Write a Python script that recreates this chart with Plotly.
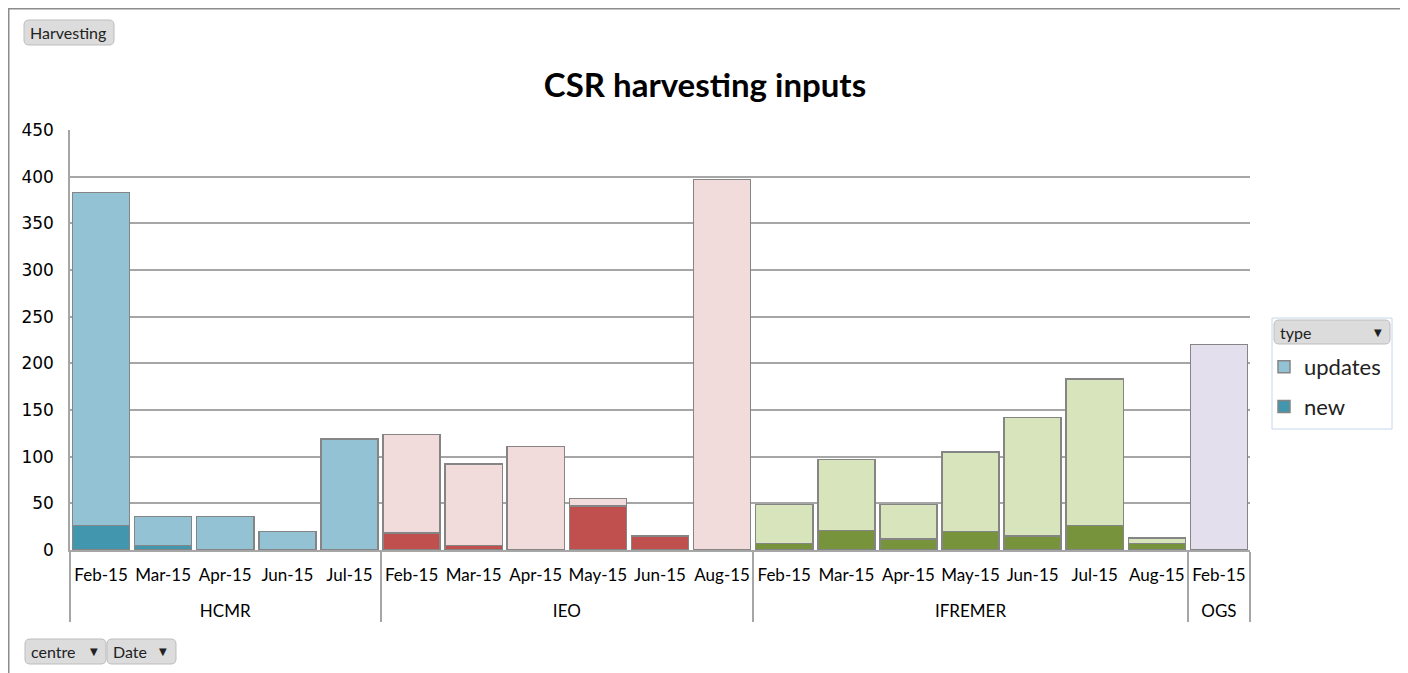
import plotly.graph_objects as go

# ---- data ----
centres = ["HCMR", "IEO", "IFREMER", "OGS"]
months = ["Feb-15", "Mar-15", "Apr-15", "May-15", "Jun-15", "Jul-15", "Aug-15"]
# one value per month (None = no entry for that centre/month)
hcmr_new = [26, 5, 0, None, 0, 0, None]
hcmr_updates = [357, 31, 36, None, 20, 119, None]
ieo_new = [18, 5, 0, 47, 15, None, 0]
ieo_updates = [106, 87, 111, 8, 0, None, 397]
ifremer_new = [7, 21, 12, 20, 15, 26, 7]
ifremer_updates = [42, 76, 37, 85, 127, 157, 6]
ogs_new = [0, None, None, None, None, None, None]
ogs_updates = [220, None, None, None, None, None, None]

new_series = {"HCMR": hcmr_new, "IEO": ieo_new, "IFREMER": ifremer_new, "OGS": ogs_new}
upd_series = {"HCMR": hcmr_updates, "IEO": ieo_updates, "IFREMER": ifremer_updates, "OGS": ogs_updates}

color_updates = {"HCMR": "#93C2D5", "IEO": "#F2DCDB", "IFREMER": "#D8E4BC", "OGS": "#E4DFEC"}
color_new = {"HCMR": "#4297AE", "IEO": "#C0504D", "IFREMER": "#77933C", "OGS": "#8064A2"}

# month-major ordering so the multicategory axis keeps chronological order
x_outer, x_inner, y_new, y_upd, c_new, c_upd = [], [], [], [], [], []
for mi, m in enumerate(months):
    for c in centres:
        if upd_series[c][mi] is None:
            continue
        x_outer.append("<br>" + c)   # blank first line gives Excel-like spacing
        x_inner.append(m)
        y_new.append(new_series[c][mi])
        y_upd.append(upd_series[c][mi])
        c_new.append(color_new[c])
        c_upd.append(color_updates[c])

OFF = 8  # page offset of the figure in the browser
W, H = 1400, 665
L, R, T, B = 70 - OFF, 1250 - OFF, 130 - OFF, 550 - OFF


def px(x):
    return (x - OFF - L) / (R - L)


def py(y):
    return (B - (y - OFF)) / (B - T)


def rrect(x0, y0, x1, y1, r=5):
    return (f"M {px(x0 + r)},{py(y0)} L {px(x1 - r)},{py(y0)} "
            f"Q {px(x1)},{py(y0)} {px(x1)},{py(y0 + r)} "
            f"L {px(x1)},{py(y1 - r)} Q {px(x1)},{py(y1)} {px(x1 - r)},{py(y1)} "
            f"L {px(x0 + r)},{py(y1)} Q {px(x0)},{py(y1)} {px(x0)},{py(y1 - r)} "
            f"L {px(x0)},{py(y0 + r)} Q {px(x0)},{py(y0)} {px(x0 + r)},{py(y0)} Z")


fig = go.Figure()
line_style = dict(color="#858585", width=1.5)
fig.add_trace(go.Bar(x=[x_outer, x_inner], y=y_new, name="new", legendgroup="new", legendrank=2,
                     marker=dict(color=c_new, line=line_style)))
fig.add_trace(go.Bar(x=[x_outer, x_inner], y=y_upd, name="updates", legendgroup="updates",
                     legendrank=1, marker=dict(color=c_upd, line=line_style)))

shapes = []
shapes.append(dict(type="rect", xref="paper", yref="paper",
                   x0=px(8.75), x1=px(1402), y0=py(8.75), y1=py(700),
                   line=dict(color="#8C8C8C", width=1.5), layer="below"))
btn_fill, btn_line = "#DCDCDC", "#BDBDBD"
for (x0, y0, x1, y1) in [(24, 20, 114, 45), (25, 639, 106, 664), (107, 639, 176, 664),
                         (1274, 320, 1390, 344)]:
    shapes.append(dict(type="path", xref="paper", yref="paper", path=rrect(x0, y0, x1, y1),
                       fillcolor=btn_fill, line=dict(color=btn_line, width=1), layer="above"))
shapes.append(dict(type="rect", xref="paper", yref="paper",
                   x0=px(1272), x1=px(1392), y0=py(318), y1=py(429),
                   line=dict(color="#C6D6EC", width=1), layer="below"))

annotations = []
btn_font = dict(family="Lato, sans-serif", size=16, color="#222222")
for xx, yy, txt in [(28, 32.5, "Harvesting"), (29, 651.5, "centre"), (111, 651.5, "Date"),
                    (1278, 332, "type")]:
    annotations.append(dict(xref="paper", yref="paper", x=px(xx), y=py(yy), text=txt,
                            showarrow=False, xanchor="left", yanchor="middle", font=btn_font))
tri_font = dict(family="DejaVu Sans, sans-serif", size=10, color="#222222")
for xx, yy in [(94, 651.5), (163, 651.5), (1378, 332)]:
    annotations.append(dict(xref="paper", yref="paper", x=px(xx), y=py(yy), text="▼",
                            showarrow=False, xanchor="center", yanchor="middle", font=tri_font))

fig.update_layout(
    width=W, height=H,
    margin=dict(l=L, r=W - R, t=T, b=H - B, pad=0),
    paper_bgcolor="white", plot_bgcolor="white",
    barmode="stack", bargap=0.08,
    title=dict(text="<b>CSR harvesting inputs</b>", x=(705 - OFF) / W, xanchor="center",
               y=1 - (85 - OFF) / H, yanchor="middle",
               font=dict(family="Lato, sans-serif", size=33, color="black")),
    showlegend=True,
    legend=dict(x=px(1264), y=py(346), xanchor="left", yanchor="top",
                traceorder="grouped", tracegroupgap=8, itemwidth=30,
                bgcolor="rgba(0,0,0,0)", borderwidth=0,
                font=dict(family="Lato, sans-serif", size=22, color="#222222")),
    shapes=shapes, annotations=annotations,
)
fig.update_yaxes(range=[0, 450], dtick=50, showgrid=True, gridcolor="#A6A6A6", gridwidth=1.5,
                 showline=True, linecolor="#A6A6A6", linewidth=1.5, zeroline=False,
                 ticks="", ticklabelstandoff=11,
                 tickfont=dict(family="DejaVu Sans, sans-serif", size=17, color="black"))
fig.update_xaxes(type="multicategory", showline=True, linecolor="#A6A6A6", linewidth=1.5,
                 showdividers=True, dividercolor="#A6A6A6", dividerwidth=1.5,
                 ticks="", ticklabelstandoff=9,
                 showgrid=False, tickangle=0,
                 tickfont=dict(family="Lato, sans-serif", size=17, color="black"))

fig.write_html("out.html")
